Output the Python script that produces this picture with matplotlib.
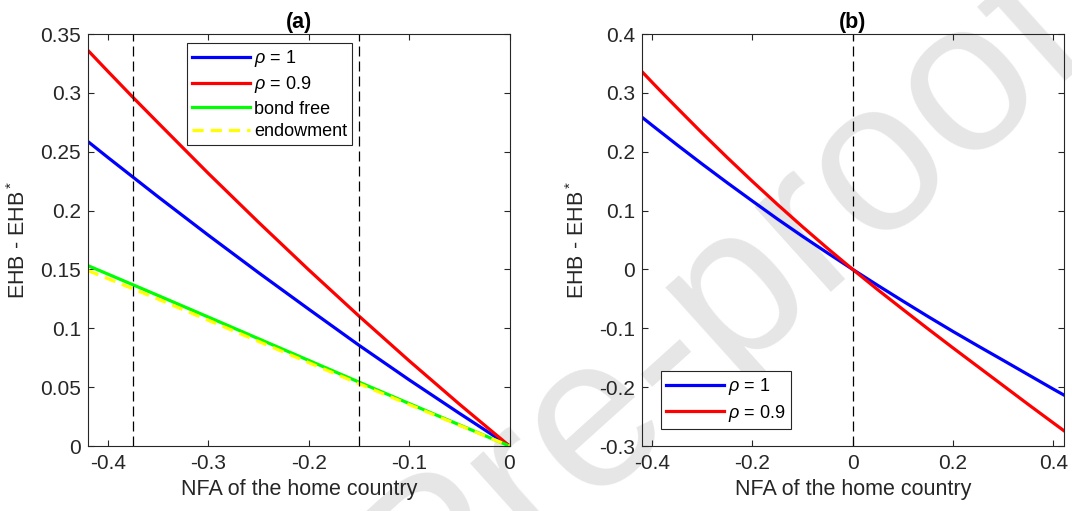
import matplotlib
matplotlib.use("Agg")
import matplotlib.pyplot as plt

# ---- data ----
nfa = [-0.42, -0.40, -0.375, -0.35, -0.30, -0.25, -0.20, -0.15, -0.10, -0.05, 0.0,
       0.05, 0.10, 0.15, 0.20, 0.25, 0.30, 0.35, 0.40, 0.42]
rho_1 = [0.2586, 0.2450, 0.2283, 0.2116, 0.1790, 0.1472, 0.1162, 0.0856, 0.0562, 0.0278, 0.0,
         -0.0272, -0.0538, -0.0800, -0.1055, -0.1302, -0.1545, -0.1790, -0.2035, -0.2130]
rho_09 = [0.3360, 0.3181, 0.2960, 0.2744, 0.2315, 0.1900, 0.1496, 0.1104, 0.0724, 0.0356, 0.0,
          -0.0346, -0.0680, -0.1010, -0.1335, -0.1655, -0.1975, -0.2295, -0.2610, -0.2735]

nfa_a = [-0.42, -0.375, -0.35, -0.30, -0.25, -0.20, -0.15, -0.10, -0.05, 0.0]
bond_free = [0.1532, 0.1369, 0.1278, 0.1095, 0.0911, 0.0727, 0.0543, 0.0361, 0.0180, 0.0]
endowment = [0.1490, 0.1335, 0.1247, 0.1068, 0.0888, 0.0708, 0.0529, 0.0352, 0.0176, 0.0]

vlines_a = [-0.375, -0.15]
vlines_b = [0.0]

xticks_a = [-0.4, -0.3, -0.2, -0.1, 0]
yticks_a = [0, 0.05, 0.1, 0.15, 0.2, 0.25, 0.3, 0.35]
xticks_b = [-0.4, -0.2, 0, 0.2, 0.4]
yticks_b = [-0.3, -0.2, -0.1, 0, 0.1, 0.2, 0.3, 0.4]

labels = [r"$\rho$ = 1", r"$\rho$ = 0.9", "bond free", "endowment"]

# ---- style ----
plt.rcParams["font.family"] = ["Liberation Sans", "DejaVu Sans"]
plt.rcParams["mathtext.fontset"] = "custom"
plt.rcParams["mathtext.it"] = "Liberation Sans:italic"
plt.rcParams["mathtext.rm"] = "Liberation Sans"
plt.rcParams["axes.unicode_minus"] = False

W, H = 1072, 511
fig = plt.figure(figsize=(W / 100, H / 100), dpi=100)

axc = "#262626"
TICK_FS = 15
LAB_FS = 15.5
LEG_FS = 13

def fmt(v):
    s = ("%.2f" % v).rstrip("0").rstrip(".")
    return "0" if s in ("-0", "0") else s

def make_ax(x0, x1):
    ax = fig.add_axes([x0 / W, 1 - 446 / H, (x1 - x0) / W, 412 / H])
    ax.set_facecolor("none")
    for sp in ax.spines.values():
        sp.set_color(axc)
        sp.set_linewidth(0.8)
    ax.tick_params(direction="in", top=True, right=True, length=4, width=0.8,
                   colors=axc, labelsize=TICK_FS)
    ax.tick_params(axis="x", pad=6)
    ax.tick_params(axis="y", pad=5)
    return ax

lw = 2.3
dash_kw = dict(color="black", lw=0.9, ls=(0, (8, 4)))

# watermark (behind everything)
fig.text(0.6735, 0.413, "Pre-proof", fontsize=155, color="#e6e6e6",
         rotation=42, ha="center", va="center", zorder=-5)

def style_legend(leg):
    fr = leg.get_frame()
    fr.set_edgecolor(axc)
    fr.set_linewidth(0.8)

# ---- panel (a) ----
ax = make_ax(88, 509.5)
xa = [x for x in nfa if x <= 0]
n = len(xa)
ax.plot(xa, rho_1[:n], color="#0000ff", lw=lw, label=labels[0])
ax.plot(xa, rho_09[:n], color="#ff0000", lw=lw, label=labels[1])
ax.plot(nfa_a, bond_free, color="#00ff00", lw=lw, label=labels[2])
ax.plot(nfa_a, endowment, color="#ffff00", lw=lw, ls=(0, (3.5, 2.2)), label=labels[3])
for v in vlines_a:
    ax.axvline(v, **dash_kw)
ax.set_xlim(-0.42, 0)
ax.set_ylim(0, 0.35)
ax.set_xticks(xticks_a)
ax.set_xticklabels([fmt(v) for v in xticks_a])
ax.set_yticks(yticks_a)
ax.set_yticklabels([fmt(v) for v in yticks_a])
ax.set_xlabel("NFA of the home country", fontsize=LAB_FS, color=axc, labelpad=4)
ax.set_ylabel(r"EHB - EHB$^*$", fontsize=LAB_FS, color=axc, labelpad=7)
ax.set_title("(a)", fontsize=LAB_FS, fontweight="bold", color="black", pad=4)
leg = ax.legend(loc="upper left", bbox_to_anchor=(0.2356, 0.9774), borderaxespad=0,
                fontsize=LEG_FS, handlelength=3.2, handletextpad=0.25, labelspacing=0.3,
                borderpad=0.25, frameon=True, fancybox=False, framealpha=1)
style_legend(leg)

# ---- panel (b) ----
bx = make_ax(642, 1063.5)
bx.plot(nfa, rho_1, color="#0000ff", lw=lw, label=labels[0])
bx.plot(nfa, rho_09, color="#ff0000", lw=lw, label=labels[1])
for v in vlines_b:
    bx.axvline(v, **dash_kw)
bx.set_xlim(-0.42, 0.42)
bx.set_ylim(-0.3, 0.4)
bx.set_xticks(xticks_b)
bx.set_xticklabels([fmt(v) for v in xticks_b])
bx.set_yticks(yticks_b)
bx.set_yticklabels([fmt(v) for v in yticks_b])
bx.set_xlabel("NFA of the home country", fontsize=LAB_FS, color=axc, labelpad=4)
bx.set_ylabel(r"EHB - EHB$^*$", fontsize=LAB_FS, color=axc, labelpad=7)
bx.set_title("(b)", fontsize=LAB_FS, fontweight="bold", color="black", pad=4)
leg2 = bx.legend(loc="lower left", bbox_to_anchor=(0.0444, 0.0413), borderaxespad=0,
                 fontsize=LEG_FS, handlelength=3.2, handletextpad=0.25, labelspacing=0.3,
                 borderpad=0.3, frameon=True, fancybox=False, framealpha=1)
style_legend(leg2)

fig.savefig("out.png", dpi=100)
